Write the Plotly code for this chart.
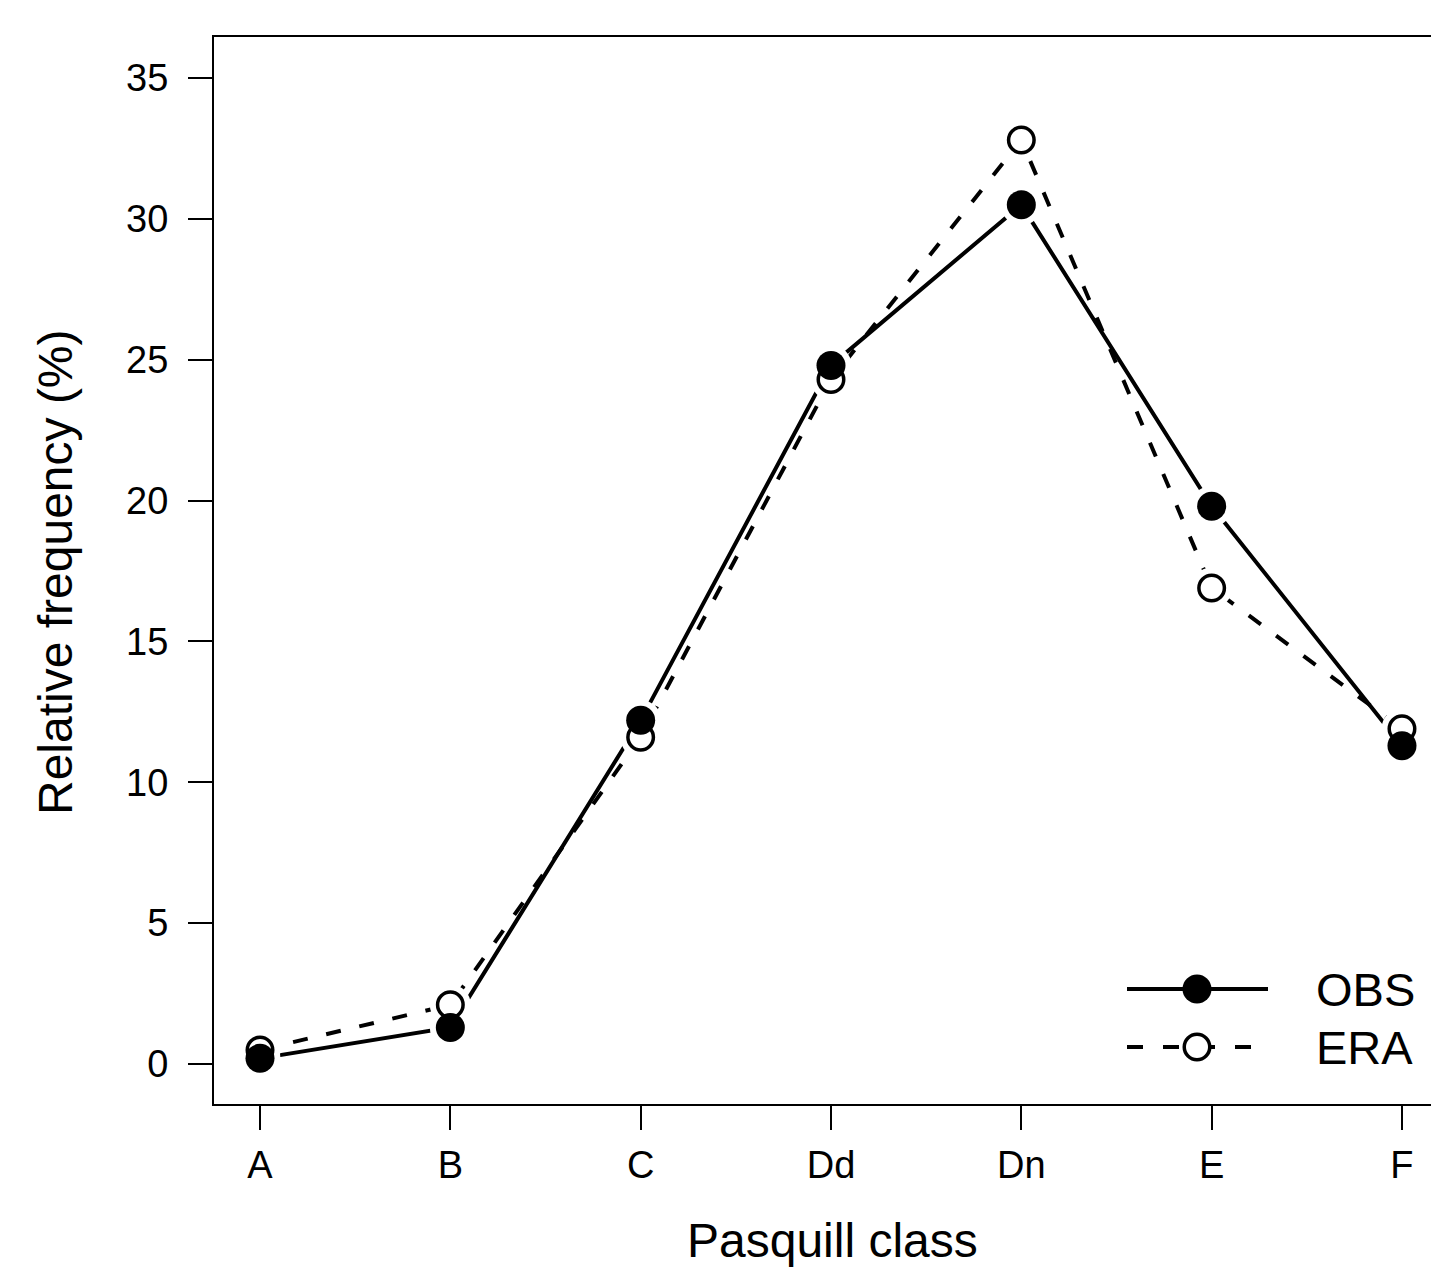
import plotly.graph_objects as go

# ---- data ----
classes = ["A", "B", "C", "Dd", "Dn", "E", "F"]
obs = [0.2, 1.3, 12.2, 24.8, 30.5, 19.8, 11.3]
era = [0.5, 2.1, 11.6, 24.3, 32.8, 16.9, 11.9]
y_ticks = [0, 5, 10, 15, 20, 25, 30, 35]
x_title = "Pasquill class"
y_title = "Relative frequency (%)"
series_names = ["OBS", "ERA"]

FONT = "Liberation Sans, Arial, Helvetica, sans-serif"
OFF = 8  # page body margin
PAGE_W, PAGE_H = 1439, 1267
W, H = PAGE_W - OFF, PAGE_H - OFF
# plot area in page pixels
P_L, P_T, P_R, P_B = 214, 37, 1439, 1104
L, T = P_L - OFF, P_T - OFF
R = PAGE_W - P_R
B = PAGE_H - P_B
pw, ph = P_R - P_L, P_B - P_T

xi = list(range(len(classes)))

def px(xp):
    return (xp - P_L) / pw

def py(yp):
    return (P_B - yp) / ph

fig = go.Figure()

# lines
fig.add_trace(go.Scatter(x=xi, y=era, mode="lines", line=dict(color="black", width=4, dash="15px,19px"),
                         showlegend=False, hoverinfo="skip"))
fig.add_trace(go.Scatter(x=xi, y=obs, mode="lines", line=dict(color="black", width=4),
                         showlegend=False, hoverinfo="skip"))
# gaps around the points (white halos)
for ys in (era, obs):
    fig.add_trace(go.Scatter(x=xi, y=ys, mode="markers",
                             marker=dict(symbol="circle", size=41, color="white", line=dict(width=0)),
                             showlegend=False, hoverinfo="skip"))
# points
fig.add_trace(go.Scatter(x=xi, y=era, mode="markers", name="ERA",
                         marker=dict(symbol="circle", size=25.5, color="white",
                                     line=dict(color="black", width=3.5)),
                         showlegend=False))
fig.add_trace(go.Scatter(x=xi, y=obs, mode="markers", name="OBS",
                         marker=dict(symbol="circle", size=29, color="black", line=dict(width=0)),
                         showlegend=False))

# ---- manual legend ----
shapes = []
annotations = []
leg_x0, leg_x1, leg_mx, leg_tx = 1127, 1268, 1197, 1314
leg_rows = [(989, "solid", "black", 29, 0), (1047, "16px,20px", "white", 25.5, 3.5)]
for (yy, dash, fill, size, lw), name in zip(leg_rows, series_names):
    shapes.append(dict(type="line", xref="paper", yref="paper",
                       x0=px(leg_x0), x1=px(leg_x1), y0=py(yy), y1=py(yy),
                       line=dict(color="black", width=4, dash=dash)))
    r = size / 2
    shapes.append(dict(type="circle", xref="paper", yref="paper",
                       xsizemode="pixel", ysizemode="pixel",
                       xanchor=px(leg_mx), yanchor=py(yy),
                       x0=-r, x1=r, y0=-r, y1=r,
                       fillcolor=fill, line=dict(color="black", width=lw if lw else 0.01)))
    annotations.append(dict(text=name, xref="paper", yref="paper", x=px(leg_tx), y=py(yy),
                            xanchor="left", yanchor="middle", showarrow=False,
                            font=dict(family=FONT, size=47, color="black")))

# axis titles
annotations.append(dict(text=y_title, xref="paper", yref="paper", x=px(55), y=py(572),
                        xanchor="center", yanchor="middle", textangle=-90, showarrow=False,
                        font=dict(family=FONT, size=48, color="black")))
annotations.append(dict(text=x_title, xref="paper", yref="paper", x=px(832), y=py(1240),
                        xanchor="center", yanchor="middle", showarrow=False,
                        font=dict(family=FONT, size=48, color="black")))

x0_px, dx_px = 260, 190.33
y0_px, dy_px = 1064, 28.17

fig.update_layout(
    width=W, height=H,
    margin=dict(l=L, r=R, t=T, b=B, pad=0),
    paper_bgcolor="white", plot_bgcolor="white",
    font=dict(family=FONT, color="black"),
    shapes=shapes, annotations=annotations,
    showlegend=False,
    xaxis=dict(range=[(P_L - x0_px) / dx_px, (P_R - x0_px) / dx_px],
               tickvals=xi, ticktext=classes,
               showgrid=False, zeroline=False,
               showline=True, linecolor="black", linewidth=2, mirror=True,
               ticks="outside", ticklen=24, tickwidth=2, tickcolor="black",
               ticklabelstandoff=2,
               tickfont=dict(family=FONT, size=38, color="black")),
    yaxis=dict(range=[(y0_px - P_B) / dy_px, (y0_px - P_T) / dy_px],
               tickvals=y_ticks, ticktext=[str(v) for v in y_ticks],
               showgrid=False, zeroline=False,
               showline=True, linecolor="black", linewidth=2, mirror=False,
               ticks="outside", ticklen=24, tickwidth=2, tickcolor="black",
               ticklabelstandoff=12,
               tickfont=dict(family=FONT, size=38, color="black")),
)

fig.write_html("out.html")
